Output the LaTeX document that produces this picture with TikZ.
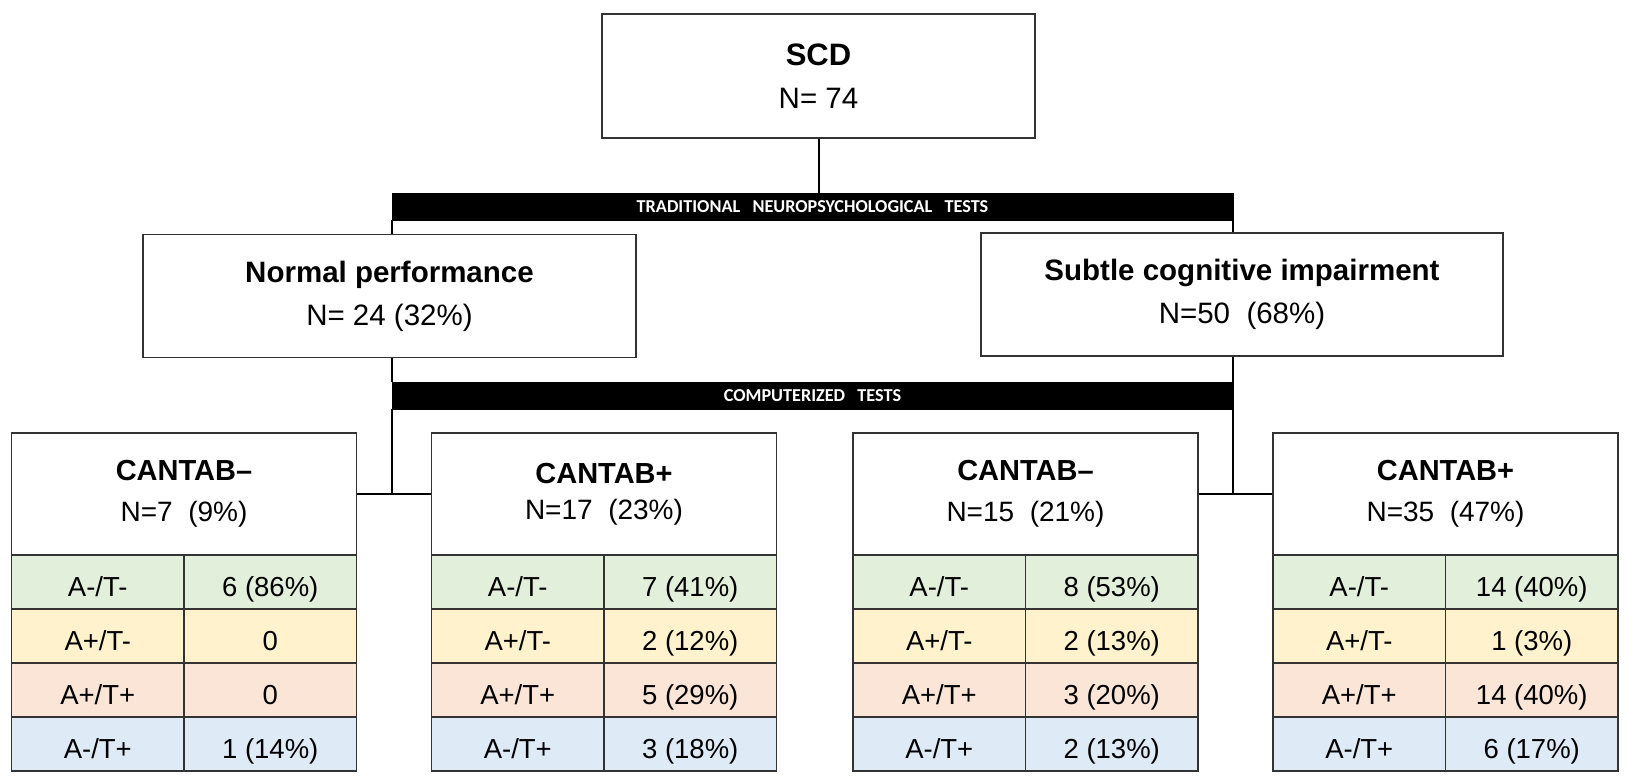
\documentclass[tikz,border=0pt]{standalone}
\usepackage{fontspec}
\setmainfont{Liberation Sans}
\newfontfamily\barfont{Carlito}
\usepackage{tikz}

\definecolor{rowgreen}{HTML}{E2EFDA}
\definecolor{rowyellow}{HTML}{FFF2CC}
\definecolor{rowpeach}{HTML}{FBE5D6}
\definecolor{rowblue}{HTML}{DEEBF7}

\tikzset{
	box/.style={draw=black!80, line width=1.5, fill=white, align=center, inner sep=0pt, font=\fontsize{29.5}{43}\selectfont},
	head/.style={box, minimum width=345, minimum height=122, font=\fontsize{28}{41}\selectfont},
	bar/.style={fill=black, draw=black, text=white, inner sep=0pt, minimum width=841, minimum height=27, font=\barfont\bfseries\fontsize{18.2}{20}\selectfont},
	cell/.style={draw=black!80, line width=1.5, inner sep=0pt, minimum width=172.5, minimum height=54, text height=29, text depth=0, font=\fontsize{27.5}{32}\selectfont},
	link/.style={draw=black, line width=2}
}
% one coloured row of a table: colour, name, centre of the row, label, count
\def\abrow[#1](#2)(#3,#4)#5#6{%
	\node[cell, fill=#1] (#2a) at (#3-86.25, #4) {#5};
	\node[cell, fill=#1] (#2b) at (#3+86.25, #4) {#6};}

\begin{document}
\begin{tikzpicture}[x=1pt, y=-1pt]
			\useasboundingbox (0,0) rectangle (1630,784);
			%%%%% TOP %%%%%
			
			\node[box, minimum width=433, minimum height=124] (scd) at (818.5,76) {\textbf{\fontsize{31}{43}\selectfont SCD}\\N= 74};
			
			\node[bar] (tnt) at (812.5,206.5) {TRADITIONAL\ \ \ NEUROPSYCHOLOGICAL\ \ \ TESTS};
			
			\node[box, minimum width=493, minimum height=123] (normal) at (389.5,296) {\textbf{Normal performance}\\N= 24 (32\%)};
			\node[box, minimum width=522, minimum height=123] (subtle) at (1242,294.5) {\textbf{Subtle cognitive impairment}\\N=50 \ (68\%)};
			
			\node[bar] (cpt) at (812.5,395.5) {COMPUTERIZED\ \ \ TESTS};
			
			%%%%% TABLES %%%%%
			
			\node[head] (neg1) at (184,494) {\textbf{\fontsize{29}{41}\selectfont CANTAB–}\\N=7 \ (9\%)};
			\abrow[rowgreen](neg1g)(184,582){A-/T-}{6 (86\%)}
			\abrow[rowyellow](neg1y)(184,636){A+/T-}{0}
			\abrow[rowpeach](neg1p)(184,690){A+/T+}{0}
			\abrow[rowblue](neg1b)(184,744){A-/T+}{1 (14\%)}
			
			\node[head, font=\fontsize{28}{36}\selectfont] (pos1) at (604,494) {\textbf{\fontsize{29}{36}\selectfont CANTAB+}\\N=17 \ (23\%)};
			\abrow[rowgreen](pos1g)(604,582){A-/T-}{7 (41\%)}
			\abrow[rowyellow](pos1y)(604,636){A+/T-}{2 (12\%)}
			\abrow[rowpeach](pos1p)(604,690){A+/T+}{5 (29\%)}
			\abrow[rowblue](pos1b)(604,744){A-/T+}{3 (18\%)}
			
			\node[head] (neg2) at (1025.5,494) {\textbf{\fontsize{29}{41}\selectfont CANTAB–}\\N=15 \ (21\%)};
			\abrow[rowgreen](neg2g)(1025.5,582){A-/T-}{8 (53\%)}
			\abrow[rowyellow](neg2y)(1025.5,636){A+/T-}{2 (13\%)}
			\abrow[rowpeach](neg2p)(1025.5,690){A+/T+}{3 (20\%)}
			\abrow[rowblue](neg2b)(1025.5,744){A-/T+}{2 (13\%)}
			
			\node[head] (pos2) at (1445.5,494) {\textbf{\fontsize{29}{41}\selectfont CANTAB+}\\N=35 \ (47\%)};
			\abrow[rowgreen](pos2g)(1445.5,582){A-/T-}{14 (40\%)}
			\abrow[rowyellow](pos2y)(1445.5,636){A+/T-}{1 (3\%)}
			\abrow[rowpeach](pos2p)(1445.5,690){A+/T+}{14 (40\%)}
			\abrow[rowblue](pos2b)(1445.5,744){A-/T+}{6 (17\%)}
			
			%%%%% LINKS %%%%%
			
			\draw[link] (scd.south) -- (scd.south |- tnt.north);
			\draw[link] (tnt.south west) -- (tnt.south west |- normal.north);
			\draw[link] (tnt.south east) -- (tnt.south east |- subtle.north);
			\draw[link] (tnt.south west |- normal.south) -- (tnt.south west |- cpt.north);
			\draw[link] (tnt.south east |- subtle.south) -- (tnt.south east |- cpt.north);
			\draw[link] (cpt.south west) -- (cpt.south west |- neg1.east);
			\draw[link] (neg1.east) -- (pos1.west);
			\draw[link] (cpt.south east) -- (cpt.south east |- neg2.east);
			\draw[link] (neg2.east) -- (pos2.west);
		\end{tikzpicture}
\end{document}
